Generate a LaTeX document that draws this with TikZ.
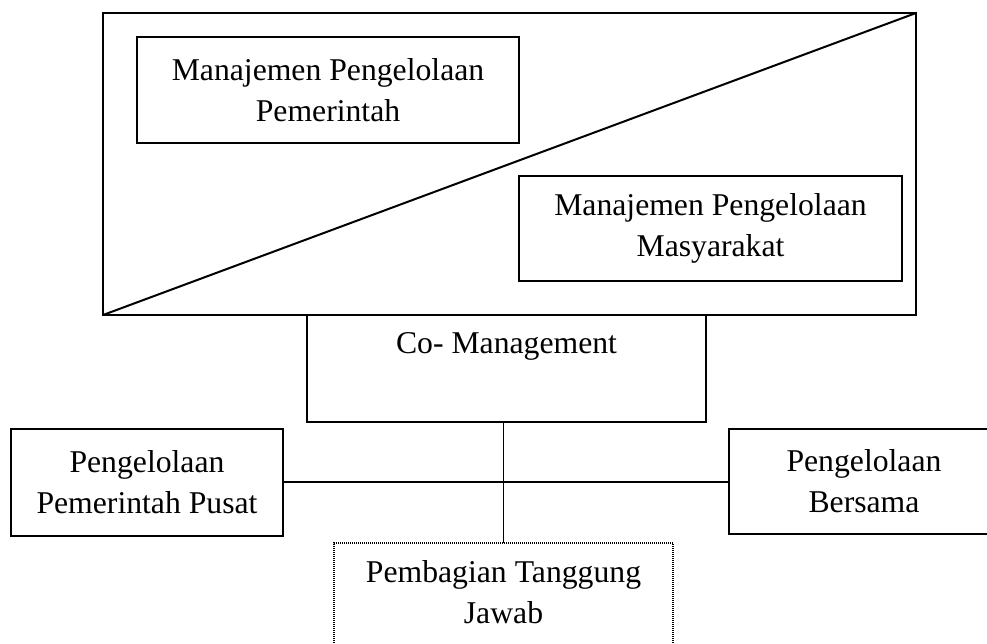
\documentclass[tikz,border=0pt]{standalone}
\usepackage{fontspec}
\setmainfont{Liberation Serif}
\begin{document}
\begin{tikzpicture}[x=1pt,y=-1pt,
  lbl/.style={font=\fontsize{31.7}{41}\selectfont,align=center,inner sep=0pt},
  boxed/.style={draw,line width=1.6pt,inner sep=0pt,outer sep=0pt},
  frame/.style={draw,line width=2.2pt,inner sep=0pt,outer sep=0pt},
  link/.style={line width=1.4pt},
  dotbox/.style={draw,line width=1.3pt,dash pattern=on 1pt off 1pt,inner sep=0pt,outer sep=0pt}]
\useasboundingbox (0,0) rectangle (987,643);
\clip (0,0) rectangle (987,643);

% outer split frame
\node[frame,minimum width=813pt,minimum height=302pt] (frame) at (509.5,164) {};
\draw[line width=2pt] (frame.south west) -- (frame.north east);

% the two management halves
\node[boxed,lbl,minimum width=382pt,minimum height=106pt] (gov) at (328,90)
  {Manajemen Pengelolaan\\Pemerintah};
\node[boxed,lbl,minimum width=383pt,minimum height=105pt] (comm) at (710.5,228.5)
  {Manajemen Pengelolaan\\Masyarakat};

% co-management block below the frame
\node[boxed,minimum width=399pt,minimum height=107pt] (co) at (506.5,368.5) {};
\node[lbl] (cotext) at (506.5,346) {Co- Management};

% branches
\node[boxed,lbl,minimum width=272pt,minimum height=107pt] (pusat) at (147,482.5)
  {Pengelolaan\\Pemerintah Pusat};
\node[boxed,lbl,minimum width=270pt,minimum height=105pt] (bersama) at (864,481.5)
  {Pengelolaan\\Bersama};
\node[dotbox,minimum width=339pt,minimum height=103pt] (tanggung) at (503.5,594.5) {};
\node[lbl] (tgtext) at (503.5,592.5) {Pembagian Tanggung\\Jawab};

% connectors
\draw[link] (tanggung.north |- co.south) -- (tanggung.north);
\draw[link] (pusat.east |- 0,482) -- (bersama.west |- 0,482);
\end{tikzpicture}
\end{document}
